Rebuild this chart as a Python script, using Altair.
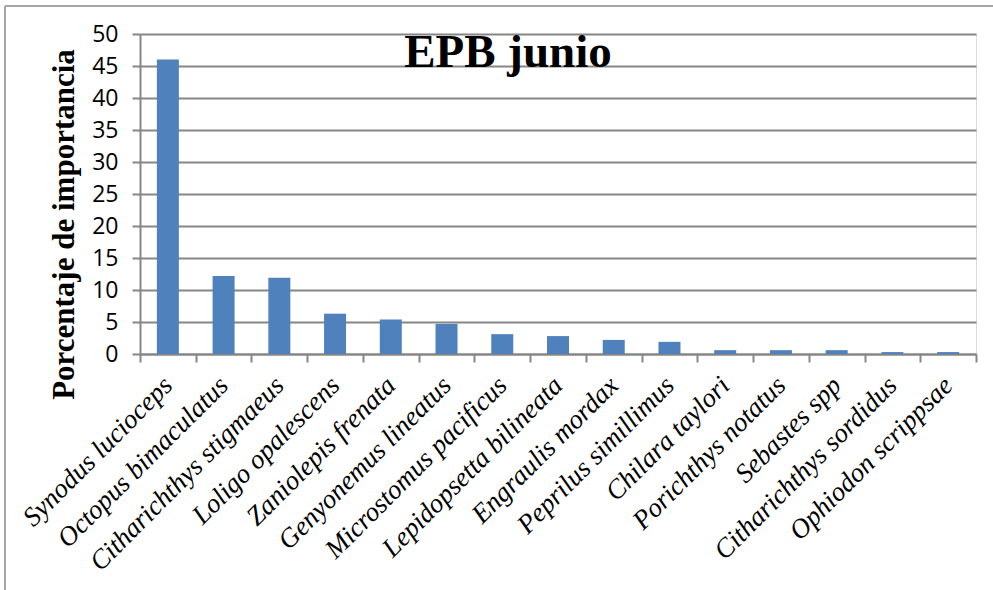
import altair as alt
import pandas as pd

especies = [
    "Synodus lucioceps", "Octopus bimaculatus", "Citharichthys stigmaeus",
    "Loligo opalescens", "Zaniolepis frenata", "Genyonemus lineatus",
    "Microstomus pacificus", "Lepidopsetta bilineata", "Engraulis mordax",
    "Peprilus simillimus", "Chilara taylori", "Porichthys notatus",
    "Sebastes spp", "Citharichthys sordidus", "Ophiodon scrippsae",
]
importancia = [46.0, 12.2, 11.9, 6.3, 5.4, 4.7, 3.1, 2.8, 2.2, 1.9,
               0.6, 0.6, 0.6, 0.3, 0.3]
y_ticks = [0, 5, 10, 15, 20, 25, 30, 35, 40, 45, 50]
titulo = "EPB junio"

df = pd.DataFrame({"especie": especies, "pct": importancia})

GRID = "#868686"

bars = alt.Chart(df).mark_bar(color="#4F81BD", size=22).encode(
    x=alt.X(
        "especie:N",
        sort=especies,
        scale=alt.Scale(paddingInner=0, paddingOuter=0),
        axis=alt.Axis(
            title=None,
            labelAngle=315,
            labelAlign="right",
            labelBaseline="middle",
            labelFont="Liberation Serif",
            labelFontStyle="italic",
            labelFontSize=27,
            labelColor="black",
            labelPadding=19,
            labelOverlap=False,
            labelLimit=400,
            tickBand="extent",
            tickSize=8,
            tickColor=GRID,
            tickWidth=2,
            domainColor=GRID,
            domainWidth=2,
            grid=False,
        ),
    ),
    y=alt.Y(
        "pct:Q",
        scale=alt.Scale(domain=[0, 50], nice=False),
        axis=alt.Axis(
            title="Porcentaje  de  importancia",
            titleFont="Liberation Serif",
            titleFontWeight="bold",
            titleFontSize=31,
            titleColor="black",
            titleAngle=270,
            titleAlign="center",
            titleBaseline="middle",
            titleX=-76,
            titleY=190,
            values=y_ticks,
            labelFont="Open Sans",
            labelFontSize=23,
            labelColor="black",
            labelPadding=14,
            tickSize=8,
            tickColor=GRID,
            tickWidth=2,
            domainColor=GRID,
            domainWidth=2,
            grid=True,
            gridColor=GRID,
            gridWidth=2,
        ),
    ),
)

frame_df = pd.DataFrame({"k": [0]})

# chart heading, drawn inside the plot area near the top
heading = alt.Chart(frame_df).mark_text(
    text=titulo,
    font="Liberation Serif",
    fontSize=47,
    fontWeight="bold",
    color="black",
    align="center",
    baseline="alphabetic",
).encode(x=alt.value(368), y=alt.value(33))

left_edge = alt.Chart(frame_df).mark_rule(color="#A6A6A6", strokeWidth=2).encode(
    x=alt.value(-135), y=alt.value(-28), y2=alt.value(600)
)
top_edge = alt.Chart(frame_df).mark_rule(color="#A6A6A6", strokeWidth=2).encode(
    x=alt.value(-135), x2=alt.value(900), y=alt.value(-28)
)

chart = alt.layer(bars, heading, left_edge, top_edge).properties(
    width=836,
    height=320,
    autosize=alt.AutoSizeParams(type="none"),
    padding={"left": 140, "top": 34, "right": 17, "bottom": 236},
).configure_view(stroke=None).configure(background="white")

chart.save("out.html", embed_options={"renderer": "svg", "actions": False})
